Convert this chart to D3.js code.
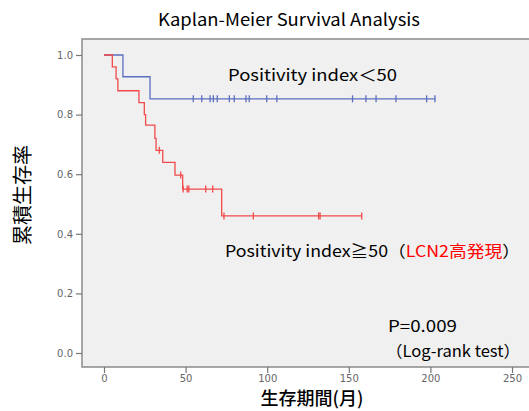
<!DOCTYPE html>
<html>
<head>
<meta charset="utf-8">
<script src="https://cdn.jsdelivr.net/npm/d3@7"></script>
<style>
  body { margin: 0; background: #fff; }
  text { font-family: "Noto Sans CJK JP", "Noto Sans", sans-serif; }
</style>
</head>
<body>
<svg width="529" height="411"></svg>
<script>
const svg = d3.select("svg");

// low group (Positivity index < 50)
const lowTimes = [0, 11.6, 28.2];
const lowSurv = [1.0, 0.927, 0.853];
const lowEnd = 203;
const lowCensor = [54.7, 59.9, 65.0, 67.0, 69.4, 76.8, 79.8, 87.0, 89.0, 99.7, 105.9,
  152.3, 160.5, 166.7, 178.9, 197.7, 202.8];

// high group (Positivity index >= 50)
const highTimes = [0, 5.1, 7.4, 8.5, 21.4, 24.7, 25.5, 31.2, 31.9, 36.0, 43.5, 48.2, 72.1];
const highSurv = [1.0, 0.96, 0.92, 0.88, 0.84, 0.80, 0.765, 0.72, 0.68, 0.64, 0.597, 0.55, 0.46];
const highEnd = 158;
const highCensor = [33.9, 47.0, 48.5, 51.0, 52.0, 62.3, 66.6, 73.5, 91.5, 131.5, 132.4, 157.9];

const xTicks = [0, 50, 100, 150, 200, 250];
const yTicks = [0, 0.2, 0.4, 0.6, 0.8, 1.0];

const blue = "#5b6fc0";
const red = "#f24a4a";

const x = d3.scaleLinear().domain([0, 250]).range([104, 512]);
const y = d3.scaleLinear().domain([0, 1]).range([353, 55]);

// plot frame
svg.append("rect")
  .attr("x", 82).attr("y", 39)
  .attr("width", 460).attr("height", 328)
  .attr("fill", "#f0f0f0")
  .attr("stroke", "#8a8a8a")
  .attr("stroke-width", 1.5);

const yAxis = d3.axisLeft(y).tickValues(yTicks).tickFormat(d3.format(".1f")).tickSize(6).tickPadding(3);
const ya = svg.append("g").attr("transform", "translate(82,0)").call(yAxis);
const xAxis = d3.axisBottom(x).tickValues(xTicks).tickSize(6).tickPadding(2);
const xa = svg.append("g").attr("transform", "translate(0,367)").call(xAxis);
[ya, xa].forEach(a => {
  a.select(".domain").remove();
  a.selectAll("line").attr("stroke", "#777").attr("stroke-width", 1.2);
  a.selectAll("text").attr("fill", "#666").style("font-size", "10px")
    .style("font-family", "'DejaVu Sans', sans-serif");
});

const line = d3.line().x(d => x(d.t)).y(d => y(d.s)).curve(d3.curveStepAfter);

function drawGroup(times, surv, end, censor, color) {
  const pts = times.map((t, i) => ({t: t, s: surv[i]}));
  pts.push({t: end, s: surv[surv.length - 1]});
  svg.append("path")
    .attr("d", line(pts))
    .attr("fill", "none")
    .attr("stroke", color)
    .attr("stroke-width", 1.3);
  const survAt = t => surv[d3.bisectRight(times, t) - 1];
  svg.append("g").selectAll("line")
    .data(censor)
    .join("line")
    .attr("x1", d => x(d)).attr("x2", d => x(d))
    .attr("y1", d => y(survAt(d)) - 3.5)
    .attr("y2", d => y(survAt(d)) + 3.5)
    .attr("stroke", color)
    .attr("stroke-width", 1.3);
}

drawGroup(lowTimes, lowSurv, lowEnd, lowCensor, blue);
drawGroup(highTimes, highSurv, highEnd, highCensor, red);

// titles and labels
svg.append("text")
  .attr("x", 158).attr("y", 26)
  .attr("textLength", 262).attr("lengthAdjust", "spacingAndGlyphs")
  .style("font-size", "17px")
  .text("Kaplan-Meier Survival Analysis");

svg.append("text")
  .attr("transform", "translate(30,195) rotate(-90)")
  .attr("text-anchor", "middle")
  .style("font-size", "20px")
  .text("累積生存率");

svg.append("text")
  .attr("x", 312).attr("y", 405)
  .attr("text-anchor", "middle")
  .style("font-size", "18px")
  .style("font-weight", "500")
  .text("生存期間(月)");

svg.append("text")
  .attr("x", 228).attr("y", 81)
  .attr("textLength", 169).attr("lengthAdjust", "spacingAndGlyphs")
  .style("font-size", "16px")
  .text("Positivity index＜50");

const t2 = svg.append("text")
  .attr("x", 225).attr("y", 257)
  .attr("textLength", 295).attr("lengthAdjust", "spacingAndGlyphs")
  .style("font-size", "16px");
t2.append("tspan").text("Positivity index≧50（");
t2.append("tspan").attr("fill", "#ff0000").text("LCN2高発現");
t2.append("tspan").text("）");

svg.append("text")
  .attr("x", 388).attr("y", 332)
  .attr("textLength", 69).attr("lengthAdjust", "spacingAndGlyphs")
  .style("font-size", "16px")
  .text("P=0.009");

svg.append("text")
  .attr("x", 386).attr("y", 357)
  .attr("textLength", 134).attr("lengthAdjust", "spacingAndGlyphs")
  .style("font-size", "16px")
  .text("（Log-rank test）");
</script>
</body>
</html>
